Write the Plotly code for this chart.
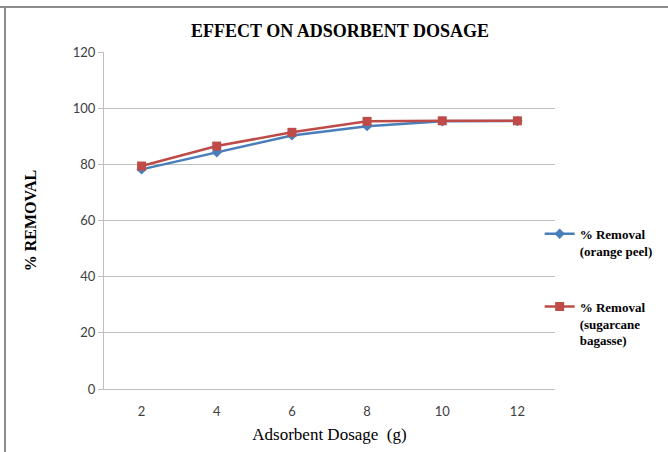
import plotly.graph_objects as go

dosage = ["2", "4", "6", "8", "10", "12"]
orange_peel = [78.2, 84.3, 90.3, 93.6, 95.3, 95.4]
sugarcane = [79.4, 86.5, 91.4, 95.3, 95.5, 95.5]
y_ticks = [0, 20, 40, 60, 80, 100, 120]

fig = go.Figure()
fig.add_trace(go.Scatter(
    x=dosage, y=orange_peel, mode="lines+markers",
    name="<b>% Removal</b><br><b>(orange peel)</b>",
    line=dict(color="#4A7EBB", width=2.5),
    marker=dict(symbol="diamond", size=8, color="#4A7EBB"),
    legendgroup="a",
))
fig.add_trace(go.Scatter(
    x=dosage, y=sugarcane, mode="lines+markers",
    name="<b>% Removal</b><br><b>(sugarcane</b><br><b>bagasse)</b>",
    line=dict(color="#BE4B48", width=2.5),
    marker=dict(symbol="square", size=9, color="#BE4B48"),
    legendgroup="b",
))

serif = "Liberation Serif"
sans = "Lato"

fig.update_layout(
    width=668, height=452,
    margin=dict(l=104, r=113, t=52, b=63, autoexpand=False),
    paper_bgcolor="white", plot_bgcolor="white",
    title=dict(text="<b>EFFECT ON ADSORBENT DOSAGE</b>",
               x=0.509, xanchor="center", y=0.932, yanchor="middle",
               font=dict(family=serif, size=18, color="black")),
    xaxis=dict(
        type="category", range=[-0.5, 5.5], automargin=False,
        showline=True, linecolor="#BFBFBF", linewidth=1,
        ticks="", showgrid=False,
        ticklabelstandoff=10,
        tickfont=dict(family=sans, size=13, color="#404040"),
        title=dict(text="Adsorbent Dosage  (g)",
                   font=dict(family=serif, size=17, color="black"),
                   standoff=10),
    ),
    yaxis=dict(
        range=[0, 120], tickvals=y_ticks, automargin=False,
        showline=True, linecolor="#BFBFBF", linewidth=1,
        ticks="outside", ticklen=5, tickcolor="#BFBFBF",
        showgrid=True, gridcolor="#BFBFBF", gridwidth=1,
        zeroline=False,
        tickfont=dict(family=sans, size=13, color="#404040"),
        title=dict(text="<b>% REMOVAL</b>",
                   font=dict(family=serif, size=16, color="black"),
                   standoff=32),
    ),
    legend=dict(
        x=0.966, xanchor="left", y=0.505, yanchor="top",
        font=dict(family=serif, size=13, color="black"),
        valign="top", tracegroupgap=36,
        bgcolor="rgba(0,0,0,0)",
    ),
    showlegend=True,
    shapes=[
        dict(type="line", xref="paper", yref="paper",
             x0=-104/451, x1=564/451, y0=1+45/337, y1=1+45/337,
             line=dict(color="#8C8C8C", width=2)),
        dict(type="line", xref="paper", yref="paper",
             x0=-99/451, x1=-99/451, y0=1+45/337, y1=-63/337,
             line=dict(color="#8C8C8C", width=2)),
    ],
)

fig.write_html("out.html")
